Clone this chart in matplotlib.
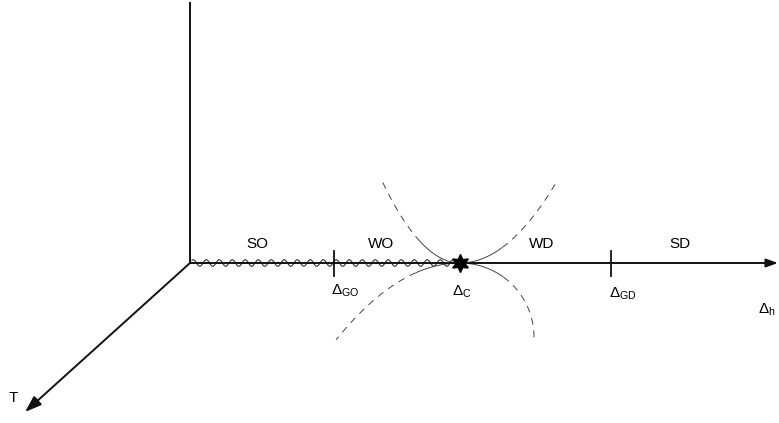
import numpy as np
import matplotlib.pyplot as plt

plt.rcParams['font.family'] = ['Liberation Sans', 'DejaVu Sans']
plt.rcParams['mathtext.fontset'] = 'custom'
plt.rcParams['mathtext.rm'] = 'Liberation Sans'
plt.rcParams['mathtext.it'] = 'Liberation Sans'

# schematic drawn in picture units (origin = corner of the axes)
origin = (190, 263)
h_end = 778
v_top = 3
t_end = (25, 412)

# positions along the Delta_h axis
crit_x = 460
marks_x = [334, 611]
marks_lbl = [r'$\Delta_{\rm GO}$', r'$\Delta_{\rm GD}$']
marks_lbl_xy = [(345, 291), (623, 294)]

regions = ['SO', 'WO', 'WD', 'SD']
regions_x = [257, 381, 542, 680]
regions_y = 244

# dashed branches at the critical point: (side, up/down, shape, coef, reach)
branches = [
    (-1, -1, 'par', 0.0135, 78),
    (1, -1, 'par', 0.0087, 95),
    (-1, 1, 'par', 0.0050, 124),
    (1, 1, 'circ', 74.0, 80),
]

fig = plt.figure(figsize=(7.79, 4.23), dpi=100)
ax = fig.add_axes([0, 0, 1, 1])
ax.set_xlim(0, 779)
ax.set_ylim(423, 0)
ax.axis('off')

ox, oy = origin
ink = '#111111'

# axes
ax.plot([ox, ox], [oy, v_top], color=ink, lw=1.4)
ax.annotate('', xy=(h_end, oy), xytext=(ox, oy),
            arrowprops=dict(arrowstyle='-|>,head_length=0.7,head_width=0.25',
                            color=ink, lw=1.4, shrinkA=0, shrinkB=0))
ax.annotate('', xy=t_end, xytext=(ox, oy),
            arrowprops=dict(arrowstyle='-|>,head_length=1.0,head_width=0.35',
                            color=ink, lw=1.4, shrinkA=0, shrinkB=0))

# wavy (ordered) part
xw = np.linspace(ox + 2, crit_x - 5, 800)
ax.plot(xw, oy - 3.3 * np.sin(2 * np.pi * (xw - ox) / 13.0), color='#333333', lw=0.8)

# branches
for side, sgn, shape, c, reach in branches:
    if shape == 'par':
        d = np.linspace(0, reach, 200)
        dy = c * d ** 2
    else:
        dy = np.linspace(0, reach, 200)
        d = np.sqrt(np.clip(2 * c * dy - dy ** 2, 0, None))
    x = crit_x + side * d
    y = oy + sgn * dy
    near = np.hypot(d, dy) < 45
    ax.plot(x[near], y[near], color='#444444', lw=0.7)
    ax.plot(x[~near], y[~near], color='#444444', lw=0.7, ls=(0, (7, 6)))

# tick marks
for mx in marks_x:
    ax.plot([mx, mx], [oy - 12, oy + 13], color=ink, lw=1.3)
for lbl, (lx, ly) in zip(marks_lbl, marks_lbl_xy):
    ax.text(lx, ly, lbl, fontsize=11, ha='center', va='center')

# critical point
ax.plot(crit_x, oy, marker=(6, 1, 0), ms=13, color='black', zorder=5)
ax.text(462, 292, r'$\Delta_{\rm C}$', fontsize=11, ha='center', va='center')
ax.text(767, 310, r'$\Delta_{\rm h}$', fontsize=11, ha='center', va='center')
ax.text(13, 398, 'T', fontsize=11, ha='center', va='center')

for name, rx in zip(regions, regions_x):
    ax.text(rx, regions_y, name, fontsize=11, ha='center', va='center')

fig.savefig('out.png', dpi=100)
